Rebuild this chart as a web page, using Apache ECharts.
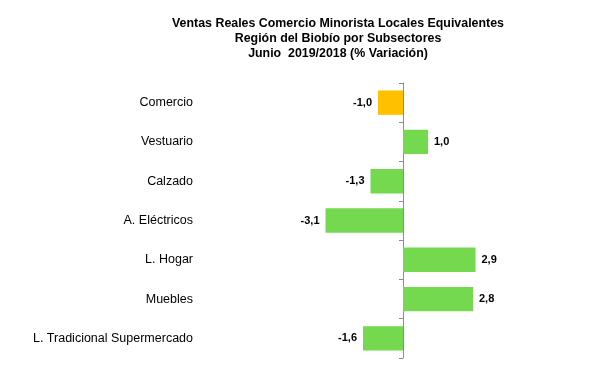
<!DOCTYPE html>
<html>
<head>
<meta charset="utf-8">
<script src="https://cdn.jsdelivr.net/npm/echarts@6/dist/echarts.min.js"></script>
<style>html,body{margin:0;padding:0;background:#fff;}#c{width:603px;height:378px;}</style>
</head>
<body>
<div id="c"></div>
<script>
const categories = ['Comercio', 'Vestuario', 'Calzado', 'A. Eléctricos', 'L. Hogar', 'Muebles', 'L. Tradicional Supermercado'];
const values = [-1.0, 1.0, -1.3, -3.1, 2.9, 2.8, -1.6];
const barColors = ['#FFC000', '#74D94F', '#74D94F', '#74D94F', '#74D94F', '#74D94F', '#74D94F'];
const titleLines = ['Ventas Reales Comercio Minorista Locales Equivalentes', 'Región del Biobío por Subsectores', 'Junio  2019/2018 (% Variación)'];

const chart = echarts.init(document.getElementById('c'), null, {renderer: 'canvas'});
chart.setOption({
  animation: false,
  backgroundColor: '#fff',
  title: {
    text: titleLines.join('\n'),
    left: 333,
    top: 11,
    textAlign: 'center',
    textStyle: {fontFamily: 'Liberation Sans, Arial, sans-serif', fontSize: 12.4, fontWeight: 'bold', color: '#000', lineHeight: 15}
  },
  grid: {left: 303, right: 100, top: 83, bottom: 20, containLabel: false, outerBoundsMode: 'none'},
  xAxis: {
    type: 'value', min: -4, max: 4, show: false
  },
  yAxis: {
    type: 'category',
    inverse: true,
    data: categories,
    axisLine: {show: true, onZero: true, lineStyle: {color: '#8c8c8c', width: 1}},
    axisTick: {show: true, length: 4, lineStyle: {color: '#8c8c8c'}},
    axisLabel: {margin: 110, align: 'right', fontFamily: 'Liberation Sans, Arial, sans-serif', fontSize: 12.5, color: '#000'},
    splitLine: {show: false}
  },
  series: [{
    type: 'bar',
    barWidth: '62%',
    data: values.map((v, i) => ({
      value: v,
      itemStyle: {color: barColors[i]},
      label: {position: v < 0 ? 'left' : 'right'}
    })),
    label: {
      show: true,
      distance: 6,
      fontFamily: 'Liberation Sans, Arial, sans-serif',
      fontSize: 11,
      fontWeight: 'bold',
      color: '#000',
      formatter: p => p.value.toFixed(1).replace('.', ',')
    }
  }]
});
</script>
</body>
</html>
